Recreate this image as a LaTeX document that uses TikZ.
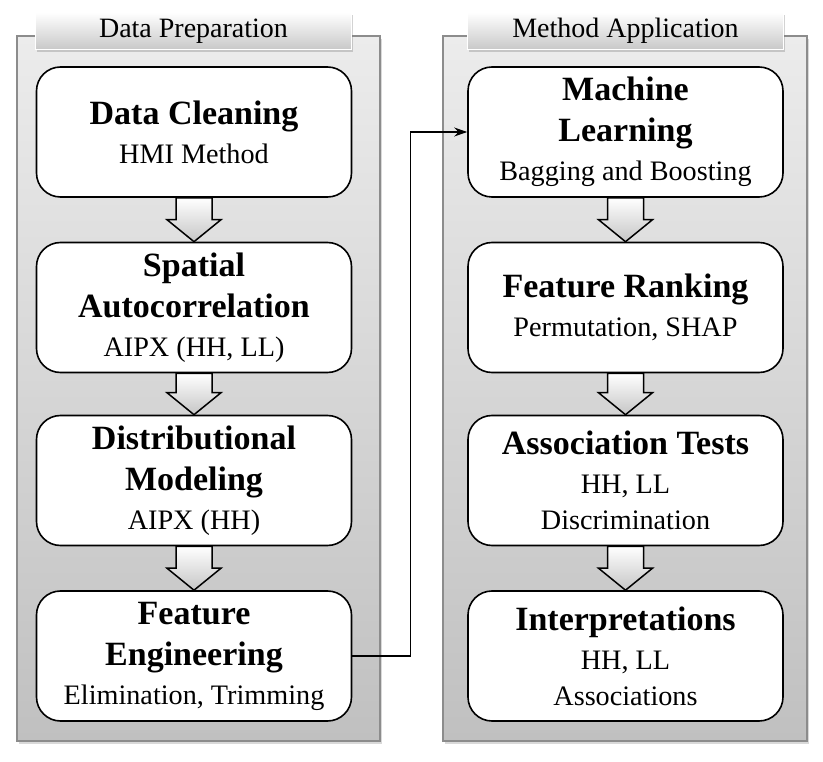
\documentclass[tikz,border=0pt]{standalone}
\usepackage{fontspec}
\setmainfont{Liberation Serif}
\usetikzlibrary{arrows.meta, calc, shadows}
\definecolor{panelline}{RGB}{140, 140, 140}
\definecolor{paneltop}{RGB}{236, 236, 236}
\definecolor{panelbot}{RGB}{192, 192, 192}
\definecolor{tabbot}{RGB}{200, 200, 200}
\newcommand{\stagetitle}{\fontsize{34}{41}\selectfont\bfseries}
\newcommand{\stagenote}{\fontsize{28.2}{36}\selectfont\mdseries}
\newcommand{\downblock}[2]{%
  \path[blockarrow] ($(#1.south)+(-18,0)$) -- ($(#1.south)+(18,0)$)
    -- ($(#2.north)+(18,-22)$) -- ($(#2.north)+(27,-22)$) -- (#2.north)
    -- ($(#2.north)+(-27,-22)$) -- ($(#2.north)+(-18,-22)$) -- cycle;}

\begin{document}
\begin{tikzpicture}[
  x=1pt, y=-1pt,
  panel/.style={draw=panelline, line width=1.6pt, top color=paneltop, bottom color=panelbot,
    drop shadow={shadow xshift=2pt, shadow yshift=-3pt, opacity=0.3}},
  tab/.style={draw=white, line width=1pt, top color=white, bottom color=tabbot,
    minimum width=316pt, minimum height=37pt, inner sep=0pt, font=\fontsize{28}{32}\selectfont,
    drop shadow={shadow xshift=1pt, shadow yshift=-3pt, opacity=0.35}},
  stage/.style={draw=black, fill=white, line width=1.6pt, rounded corners=24pt,
    minimum width=315pt, minimum height=130pt, align=center, inner sep=2pt, font=\stagenote},
  blockarrow/.style={draw=black, line width=1.5pt, top color=white, bottom color=gray!45},
  link/.style={-{Stealth[length=13pt, width=9pt]}, line width=1.3pt, black}
]
  \useasboundingbox (0,0) rectangle (823,762);

  % Panels
  \path[panel] (17,36) rectangle (380,741);
  \path[panel] (443,36) rectangle (807,741);
  \node[tab] (prep) at (193.5,31) {Data Preparation};
  \node[tab] (appl) at (625.5,31) {Method Application};

  % Data preparation
  \node[stage] (dc) at (194,132)   {\stagetitle Data Cleaning\\[3pt] HMI Method};
  \node[stage] (sa) at (194,307.5) {\stagetitle Spatial\\[5pt] \stagetitle Autocorrelation\\[3pt] AIPX (HH, LL)};
  \node[stage] (dm) at (194,480.5) {\stagetitle Distributional\\[5pt] \stagetitle Modeling\\[3pt] AIPX (HH)};
  \node[stage] (fe) at (194,656)   {\stagetitle Feature\\[5pt] \stagetitle Engineering\\[3pt] Elimination, Trimming};

  % Method application
  \node[stage] (ml) at (625.5,132)   {\stagetitle Machine\\[5pt] \stagetitle Learning\\[3pt] Bagging and Boosting};
  \node[stage] (fr) at (625.5,307.5) {\stagetitle Feature Ranking\\[3pt] Permutation, SHAP};
  \node[stage] (at) at (625.5,480.5) {\stagetitle Association Tests\\[3pt] HH, LL\\ Discrimination};
  \node[stage] (ip) at (625.5,656)   {\stagetitle Interpretations\\[3pt] HH, LL\\ Associations};

  % Block arrows
  \foreach \a/\b in {dc/sa, sa/dm, dm/fe, ml/fr, fr/at, at/ip}
    {\downblock{\a}{\b}}

  % Link between panels
  \draw[link] (fe.east) -- ++(58,0) |- (ml.west);
\end{tikzpicture}
\end{document}
